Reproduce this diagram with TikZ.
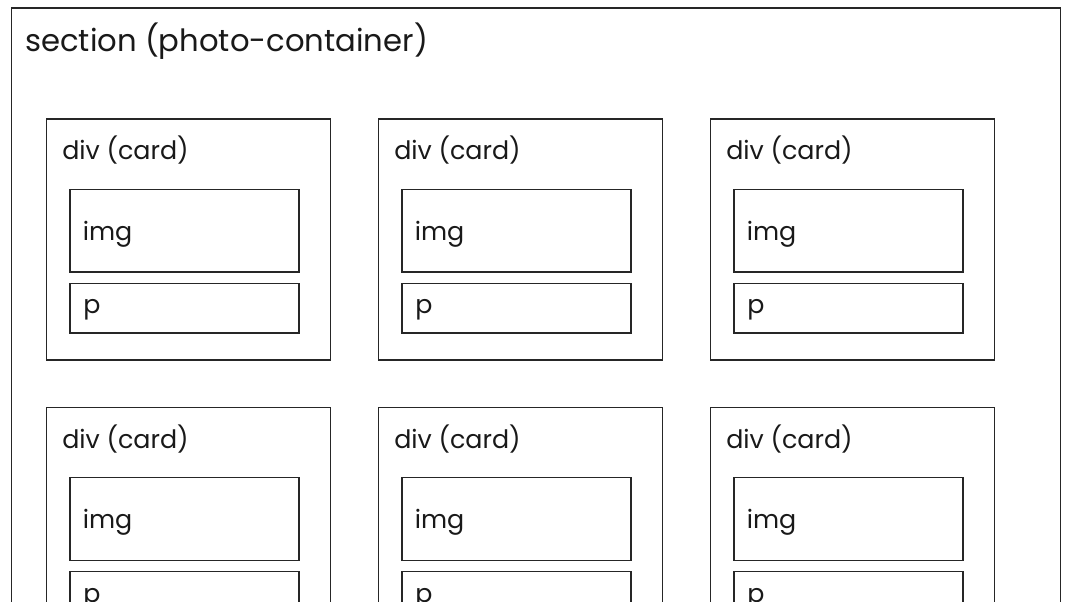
\documentclass[tikz,border=0pt]{standalone}
\usepackage{fontspec}
\setmainfont{Poppins}
\def\pxu{0.75pt}
\tikzset{
  box/.style={draw=black!85, line width=1pt, inner sep=0pt, anchor=north west},
  lbl/.style={inner sep=0pt, anchor=base west, text=black!90},
  biglbl/.style={lbl, font=\fontsize{23pt}{27pt}\selectfont},
  smalllbl/.style={lbl, font=\fontsize{19pt}{23pt}\selectfont},
}
\begin{document}
\begin{tikzpicture}[x=0.75pt, y=-0.75pt]
\useasboundingbox (0,0) rectangle (1070,602);
\fill[white] (0,0) rectangle (1070,602);
\clip (0,0) rectangle (1070,602);
\node[box, minimum width=1049*\pxu, minimum height=700*\pxu] (section) at (11,7.5) {};
\node[biglbl] (sectionlabel) at (25,52) {section (photo-container)};
\foreach \i in {0,1,2}{
  \foreach \j in {0,1}{
    \pgfmathsetmacro{\cx}{46+332*\i}
    \pgfmathsetmacro{\cy}{118.3+288.4*\j}
    \node[box, minimum width=283.5*\pxu, minimum height=241*\pxu] (card-\i-\j) at (\cx,\cy) {};
    \node[smalllbl] (cardlabel-\i-\j) at (\cx+16,\cy+41.7) {div (card)};
    \node[box, minimum width=229*\pxu, minimum height=82.5*\pxu] (img-\i-\j) at (\cx+23.3,\cy+70.4) {};
    \node[smalllbl] (imglabel-\i-\j) at (\cx+36.5,\cy+122) {img};
    \node[box, minimum width=229*\pxu, minimum height=49.6*\pxu] (p-\i-\j) at (\cx+23.3,\cy+164.4) {};
    \node[smalllbl] (plabel-\i-\j) at (\cx+37,\cy+195.5) {p};
  }
}
\end{tikzpicture}
\end{document}
